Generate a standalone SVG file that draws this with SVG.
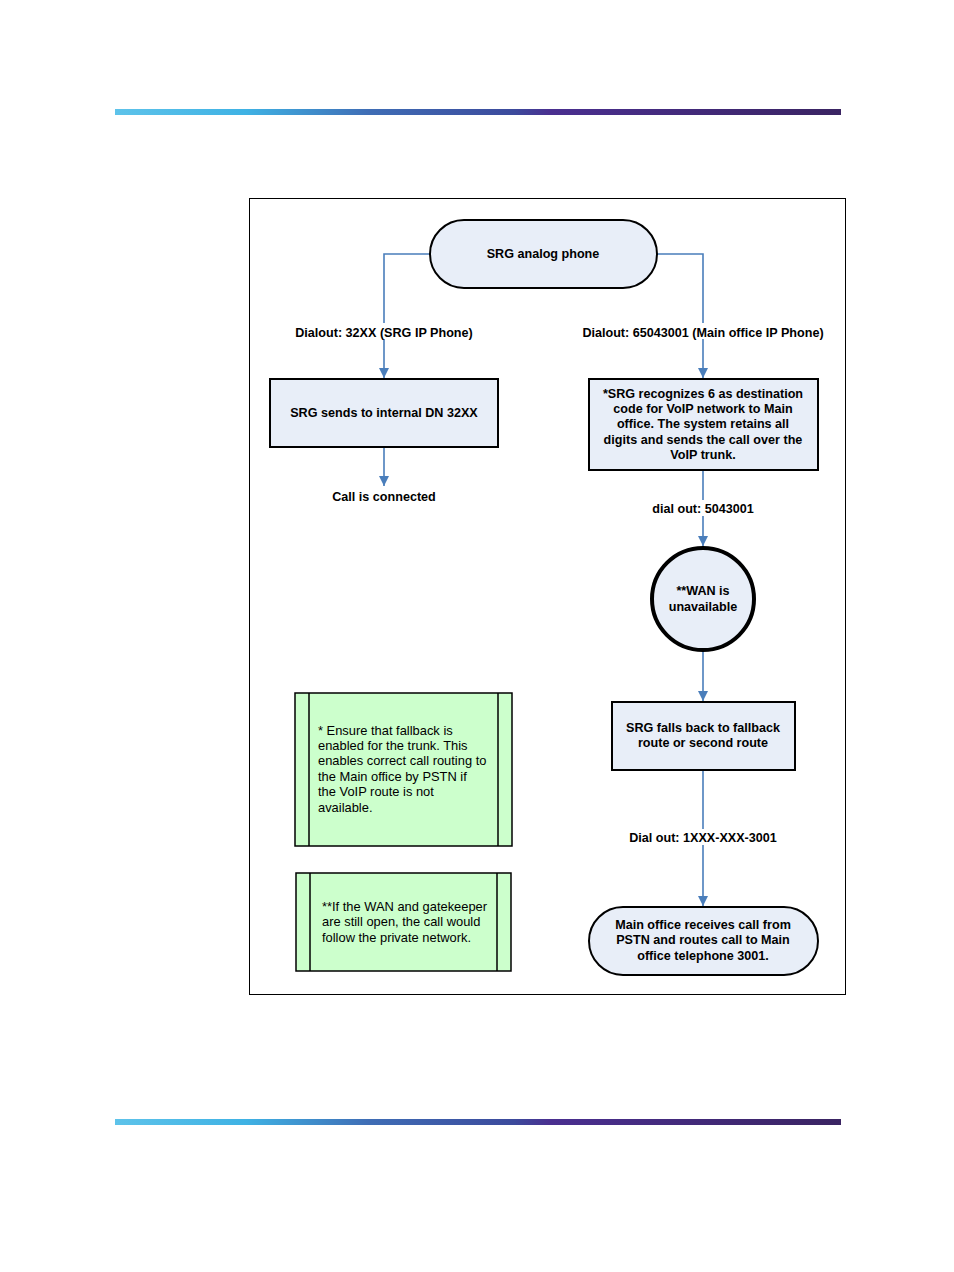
<svg xmlns="http://www.w3.org/2000/svg" width="954" height="1272" viewBox="0 0 954 1272">
<defs>
<linearGradient id="bar" x1="0" y1="0" x2="1" y2="0">
<stop offset="0" stop-color="#5ec3ea"/>
<stop offset="0.18" stop-color="#3fb2e4"/>
<stop offset="0.35" stop-color="#3f6db5"/>
<stop offset="0.55" stop-color="#3c4a9c"/>
<stop offset="0.6" stop-color="#4a2f90"/>
<stop offset="1" stop-color="#3a2462"/>
</linearGradient>
<marker id="arr" viewBox="0 0 10 10" refX="10" refY="5" markerWidth="10" markerHeight="10" markerUnits="userSpaceOnUse" orient="auto">
<path d="M0,0 L10,5 L0,10 Z" fill="#4a7ebb"/>
</marker>
<style>
.node{fill:#e8eef8;stroke:#000;stroke-width:2}
.note{fill:#ccffcc;stroke:#000;stroke-width:1.5}
.c{fill:none;stroke:#4a7ebb;stroke-width:1.6}
.t{font-family:"Liberation Sans",Arial,sans-serif;font-size:12.6px;font-weight:bold;fill:#000;text-anchor:middle}
.n{font-family:"Liberation Sans",Arial,sans-serif;font-size:12.9px;fill:#000}
.lbl{fill:#fff}
</style>
</defs>
<rect width="954" height="1272" fill="#fff"/>
<rect x="115" y="109" width="726" height="6" fill="url(#bar)"/>
<rect x="115" y="1119" width="726" height="6" fill="url(#bar)"/>
<rect x="249.5" y="198.5" width="596" height="796" fill="none" stroke="#000" stroke-width="1"/>

<g id="connectors">
<path class="c" d="M430,254 H384 V378" marker-end="url(#arr)"/>
<path class="c" d="M657,254 H703 V378" marker-end="url(#arr)"/>
<path class="c" d="M384,447 V486" marker-end="url(#arr)"/>
<path class="c" d="M703,470 V546" marker-end="url(#arr)"/>
<path class="c" d="M703,651 V701" marker-end="url(#arr)"/>
<path class="c" d="M703,770 V906" marker-end="url(#arr)"/>
<rect class="lbl" x="290" y="323" width="188" height="16"/>
<text class="t" x="384" y="337">Dialout: 32XX (SRG IP Phone)</text>
<rect class="lbl" x="578" y="323" width="250" height="16"/>
<text class="t" x="703" y="337">Dialout: 65043001 (Main office IP Phone)</text>
<rect class="lbl" x="648" y="500" width="110" height="16"/>
<text class="t" x="703" y="513">dial out: 5043001</text>
<rect class="lbl" x="624" y="829" width="158" height="16"/>
<text class="t" x="703" y="842">Dial out: 1XXX-XXX-3001</text>
</g>

<g id="start">
<rect class="node" x="430" y="220" width="227" height="68" rx="34"/>
<text class="t" x="543" y="258">SRG analog phone</text>
</g>

<g id="internal">
<rect class="node" x="270" y="379" width="228" height="68"/>
<text class="t" x="384" y="417">SRG sends to internal DN 32XX</text>
</g>

<g id="connected">
<text class="t" x="384" y="501">Call is connected</text>
</g>

<g id="recognize">
<rect class="node" x="589" y="379" width="229" height="91"/>
<text class="t" x="703" y="398">*SRG recognizes 6 as destination</text>
<text class="t" x="703" y="413">code for VoIP network to Main</text>
<text class="t" x="703" y="428">office. The system retains all</text>
<text class="t" x="703" y="444">digits and sends the call over the</text>
<text class="t" x="703" y="459">VoIP trunk.</text>
</g>

<g id="wan">
<circle cx="703" cy="599" r="51" fill="#e8eef8" stroke="#000" stroke-width="4"/>
<text class="t" x="703" y="595">**WAN is</text>
<text class="t" x="703" y="611">unavailable</text>
</g>

<g id="fallback">
<rect class="node" x="612" y="702" width="183" height="68"/>
<text class="t" x="703" y="732">SRG falls back to fallback</text>
<text class="t" x="703" y="747">route or second route</text>
</g>

<g id="mainoffice">
<rect class="node" x="589" y="907" width="229" height="68" rx="34"/>
<text class="t" x="703" y="929">Main office receives call from</text>
<text class="t" x="703" y="944">PSTN and routes call to Main</text>
<text class="t" x="703" y="960">office telephone 3001.</text>
</g>

<g id="note1">
<rect class="note" x="295" y="693" width="217" height="153"/>
<line x1="309" y1="693" x2="309" y2="846" stroke="#000" stroke-width="1.5"/>
<line x1="498" y1="693" x2="498" y2="846" stroke="#000" stroke-width="1.5"/>
<text class="n" x="318" y="735">* Ensure that fallback is</text>
<text class="n" x="318" y="750">enabled for the trunk. This</text>
<text class="n" x="318" y="765">enables correct call routing to</text>
<text class="n" x="318" y="781">the Main office by PSTN if</text>
<text class="n" x="318" y="796">the VoIP route is not</text>
<text class="n" x="318" y="812">available.</text>
</g>

<g id="note2">
<rect class="note" x="296" y="873" width="215" height="98"/>
<line x1="310" y1="873" x2="310" y2="971" stroke="#000" stroke-width="1.5"/>
<line x1="497" y1="873" x2="497" y2="971" stroke="#000" stroke-width="1.5"/>
<text class="n" x="322" y="911">**If the WAN and gatekeeper</text>
<text class="n" x="322" y="926">are still open, the call would</text>
<text class="n" x="322" y="942">follow the private network.</text>
</g>
</svg>
